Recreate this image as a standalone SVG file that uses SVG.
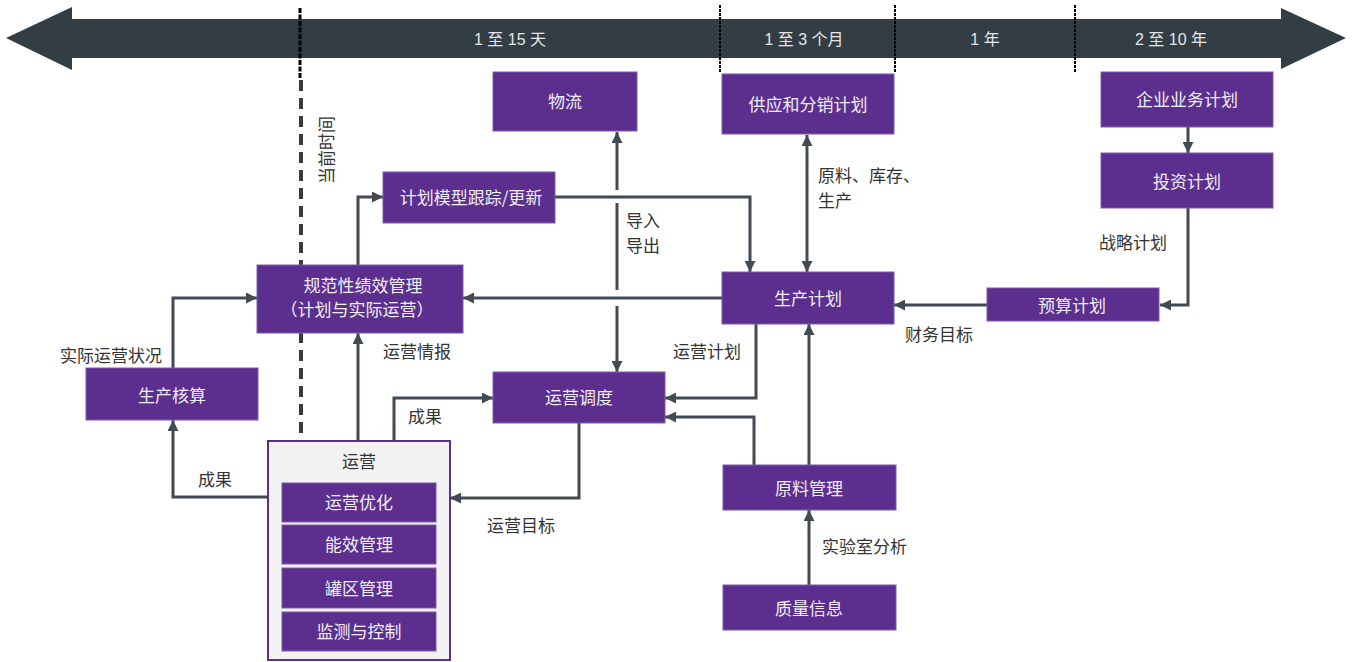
<svg xmlns="http://www.w3.org/2000/svg" width="1353" height="662" viewBox="0 0 1353 662">
<style>
.node{fill:#5c2f8f;stroke:#7d5aa8;stroke-width:1}
.nt{font-family:"Noto Sans CJK SC","Liberation Sans",sans-serif;font-size:17px;fill:#f0eef4;text-anchor:middle;dominant-baseline:central}
.lb{font-family:"Noto Sans CJK SC","Liberation Sans",sans-serif;font-size:17px;fill:#333333}
.bt{font-family:"Liberation Sans","Noto Sans CJK SC",sans-serif;font-size:16px;fill:#e6e6e6;text-anchor:middle;dominant-baseline:central}
.cn{fill:none;stroke:#434b52;stroke-width:3}
.tick{stroke:#000;stroke-width:2;stroke-dasharray:3 1}
</style>
<defs>
<marker id="ah" viewBox="0 0 10 10" refX="10" refY="5" markerWidth="11" markerHeight="11" markerUnits="userSpaceOnUse" orient="auto-start-reverse">
<path d="M0,0 L10,5 L0,10 z" fill="#434b52"/>
</marker>
</defs>
<rect width="1353" height="662" fill="#ffffff"/>
<g id="timeline">
<polygon points="6,38 72,7 72,19 1281,19 1281,8 1346,38 1281,69 1281,58 72,58 72,70" fill="#323d44"/>
<line x1="300" y1="8" x2="300" y2="78" stroke="#000" stroke-width="3" stroke-dasharray="5 1.5"/>
<line class="tick" x1="720" y1="5" x2="720" y2="73"/>
<line class="tick" x1="895" y1="5" x2="895" y2="73"/>
<line class="tick" x1="1075" y1="5" x2="1075" y2="73"/>
<text class="bt" x="510" y="39">1 至 15 天</text>
<text class="bt" x="804" y="39">1 至 3 个月</text>
<text class="bt" x="985" y="39">1 年</text>
<text class="bt" x="1171" y="39">2 至 10 年</text>
</g>
<g id="current-time">
<line x1="301" y1="80" x2="301" y2="438" stroke="#3a3a3a" stroke-width="4" stroke-dasharray="11 7"/>
<text class="lb" transform="translate(325,150) rotate(-90)" text-anchor="middle" dominant-baseline="central">当前时间</text>
</g>
<g id="connectors">
<polyline class="cn" points="617,190 617,132" marker-end="url(#ah)"/>
<line class="cn" x1="617" y1="203" x2="617" y2="290"/>
<polyline class="cn" points="617,306 617,372" marker-end="url(#ah)"/>
<polyline class="cn" points="555,197 750,197 750,272" marker-end="url(#ah)"/>
<polyline class="cn" points="358,265 358,197 383,197" marker-end="url(#ah)"/>
<polyline class="cn" points="722,298 463,298" marker-end="url(#ah)"/>
<polyline class="cn" points="807,135 807,272" marker-start="url(#ah)" marker-end="url(#ah)"/>
<polyline class="cn" points="1188,127 1188,153" marker-end="url(#ah)"/>
<polyline class="cn" points="1188,208 1188,305 1160,305" marker-end="url(#ah)"/>
<polyline class="cn" points="987,305 894,305" marker-end="url(#ah)"/>
<polyline class="cn" points="756,324 756,398 665,398" marker-end="url(#ah)"/>
<polyline class="cn" points="754,465 754,417 665,417" marker-end="url(#ah)"/>
<polyline class="cn" points="809,465 809,324" marker-end="url(#ah)"/>
<polyline class="cn" points="809,585 809,510" marker-end="url(#ah)"/>
<polyline class="cn" points="579,423 579,498 450,498" marker-end="url(#ah)"/>
<polyline class="cn" points="394,441 394,398 493,398" marker-end="url(#ah)"/>
<polyline class="cn" points="358,441 358,333" marker-end="url(#ah)"/>
<polyline class="cn" points="268,497 173,497 173,420" marker-end="url(#ah)"/>
<polyline class="cn" points="173,368 173,298 257,298" marker-end="url(#ah)"/>
</g>
<g id="labels">
<text class="lb" x="626" y="227">导入</text>
<text class="lb" x="626" y="252">导出</text>
<text class="lb" x="818" y="182">原料、库存、</text>
<text class="lb" x="818" y="207">生产</text>
<text class="lb" x="1099" y="249">战略计划</text>
<text class="lb" x="905" y="341">财务目标</text>
<text class="lb" x="673" y="358">运营计划</text>
<text class="lb" x="383" y="358">运营情报</text>
<text class="lb" x="60" y="362">实际运营状况</text>
<text class="lb" x="408" y="423">成果</text>
<text class="lb" x="198" y="486">成果</text>
<text class="lb" x="487" y="532">运营目标</text>
<text class="lb" x="822" y="553">实验室分析</text>
</g>
<g id="n-wuliu"><rect class="node" x="493" y="72" width="144" height="59"/><text class="nt" x="565" y="100">物流</text></g>
<g id="n-gongying"><rect class="node" x="722" y="74" width="172" height="60"/><text class="nt" x="808" y="103">供应和分销计划</text></g>
<g id="n-qiye"><rect class="node" x="1101" y="72" width="172" height="55"/><text class="nt" x="1187" y="98">企业业务计划</text></g>
<g id="n-touzi"><rect class="node" x="1101" y="153" width="172" height="55"/><text class="nt" x="1187" y="180">投资计划</text></g>
<g id="n-moxing"><rect class="node" x="383" y="172" width="172" height="51"/><text class="nt" x="471" y="196">计划模型跟踪/更新</text></g>
<g id="n-guifan"><rect class="node" x="257" y="265" width="206" height="68"/><text class="nt" x="363" y="284">规范性绩效管理</text><text class="nt" x="357" y="308">（计划与实际运营）</text></g>
<g id="n-shengchan"><rect class="node" x="722" y="272" width="172" height="52"/><text class="nt" x="808" y="297">生产计划</text></g>
<g id="n-yusuan"><rect class="node" x="987" y="288" width="172" height="33"/><text class="nt" x="1072" y="304">预算计划</text></g>
<g id="n-hesuan"><rect class="node" x="86" y="368" width="172" height="52"/><text class="nt" x="172" y="394">生产核算</text></g>
<g id="n-diaodu"><rect class="node" x="493" y="372" width="172" height="51"/><text class="nt" x="579" y="396">运营调度</text></g>
<g id="n-yuanliao"><rect class="node" x="723" y="465" width="173" height="45"/><text class="nt" x="809" y="487">原料管理</text></g>
<g id="n-zhiliang"><rect class="node" x="723" y="585" width="173" height="45"/><text class="nt" x="809" y="607">质量信息</text></g>
<g id="n-yunying">
<rect x="268" y="441" width="182" height="219" fill="#f2f2f2" stroke="#5c2f8f" stroke-width="2"/>
<text class="lb" x="359" y="460" text-anchor="middle" dominant-baseline="central">运营</text>
<rect class="node" x="282" y="483" width="154" height="39"/><text class="nt" x="359" y="501">运营优化</text>
<rect class="node" x="282" y="525" width="154" height="39"/><text class="nt" x="359" y="543">能效管理</text>
<rect class="node" x="282" y="568" width="154" height="40"/><text class="nt" x="359" y="587">罐区管理</text>
<rect class="node" x="282" y="612" width="154" height="39"/><text class="nt" x="359" y="630">监测与控制</text>
</g>
</svg>
